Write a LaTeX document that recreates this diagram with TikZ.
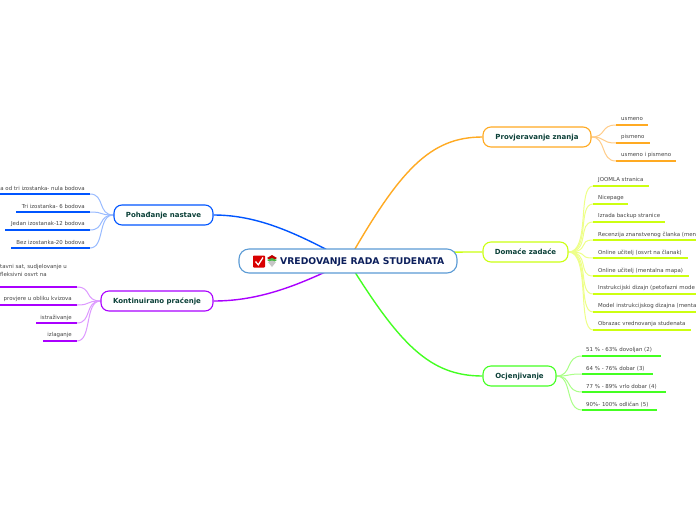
\documentclass[tikz,border=0pt]{standalone}
\usepackage{fontspec}
\setmainfont{DejaVu Sans}
\usetikzlibrary{calc}
\pgfdeclarelayer{edges}
\pgfdeclarelayer{back}
\pgfsetlayers{back,edges,main}
\definecolor{cblue}{HTML}{0055FF}\definecolor{lblue}{HTML}{99BBFF}
\definecolor{cpurp}{HTML}{AA00FF}\definecolor{lpurp}{HTML}{DD99FF}
\definecolor{corng}{HTML}{FFAA22}\definecolor{lorng}{HTML}{FFCC88}
\definecolor{cyell}{HTML}{CCFF11}\definecolor{lyell}{HTML}{EEFF88}
\definecolor{cgren}{HTML}{44FF22}\definecolor{lgren}{HTML}{AAFF88}
\definecolor{maintxt}{HTML}{0B4038}\definecolor{leaftxt}{HTML}{444444}
\definecolor{rootline}{HTML}{5B9BD5}\definecolor{roottxt}{HTML}{0C1F5C}
\tikzset{
  mainbox/.style={draw=#1,line width=1.1pt,fill=white,rounded corners=8pt,inner sep=0pt,text=maintxt,
    text height=6pt,text depth=1pt,font=\fontsize{7}{8}\selectfont\bfseries},
  rootbox/.style={draw=#1,line width=1.1pt,fill=white,rounded corners=10pt,inner sep=0pt},
  leaftext/.style={inner sep=0pt,text=leaftxt,font=\fontsize{5.45}{7}\selectfont},
  trunk/.style={line width=1.4pt,#1},
  twig/.style={line width=1pt,#1},
  under/.style={line width=1.5pt,#1},
}
% name, x-start, x-end, y, text anchor x, anchor, colour, text
\newcommand{\leafitem}[8]{%
  \coordinate (#1-a) at (#2,#4);
  \coordinate (#1-b) at (#3,#4);
  \draw[under=#7] (#1-a) -- (#1-b);
  \node[leaftext,anchor=#6] (#1) at (#5,#4-5.6) {#8};
}
\begin{document}
\begin{tikzpicture}[x=1pt,y=-1pt]
\useasboundingbox (0,0) rectangle (696,520);
\begin{pgfonlayer}{back}\fill[white] (0,0) rectangle (696,520);\end{pgfonlayer}

\node[rootbox=rootline,minimum width=218pt,minimum height=24pt] (root) at (348,261) {};
\node[inner sep=0pt,anchor=west,text=roottxt,font=\fontsize{9.25}{10}\selectfont\bfseries] (roottxt) at (280,261.5) {VREDOVANJE RADA STUDENATA};
% icons
\fill[red!85!black,rounded corners=.8pt] (253,255.5) rectangle (265,267.5);
\draw[white,line width=1.3pt] (255.5,261.5) -- (258.3,264.8) -- (263,257.5);
\fill[red!75!black] (267,258) -- (272,255) -- (277,258) -- (272,261) -- cycle;
\fill[green!45!gray] (267,260) -- (272,258) -- (277,260) -- (272,263) -- cycle;
\fill[gray!45] (268,262) -- (272,260.5) -- (276,262) -- (272,267) -- cycle;

\node[mainbox=cblue,minimum width=99pt,minimum height=20pt] (poh) at (163.5,215) {Pohađanje nastave};
\node[mainbox=cpurp,minimum width=112pt,minimum height=20pt] (kon) at (157,301) {Kontinuirano praćenje};
\node[mainbox=corng,minimum width=108pt,minimum height=20pt] (pro) at (537,137) {Provjeravanje znanja};
\node[mainbox=cyell,minimum width=85pt,minimum height=20pt] (dom) at (525.5,252) {Domaće zadaće};
\node[mainbox=cgren,minimum width=73pt,minimum height=20pt] (ocj) at (519.5,376) {Ocjenjivanje};

\leafitem{p1}{0}{90}{194}{85}{east}{cblue}{a od tri izostanka- nula bodova}
\leafitem{p2}{16}{90}{212}{85}{east}{cblue}{Tri izostanka- 6 bodova}
\leafitem{p3}{5}{90}{230}{85}{east}{cblue}{Jedan izostanak-12 bodova}
\leafitem{p4}{11}{90}{248}{85}{east}{cblue}{Bez izostanka-20 bodova}

\coordinate (k1-a) at (0,287);\coordinate (k1-b) at (77,287);
\draw[under=cpurp] (k1-a) -- (k1-b);
\node[leaftext,anchor=west] (k1t) at (0,267.4) {tavni sat, sudjelovanje u};
\node[leaftext,anchor=west] (k1u) at (0,274.4) {fleksivni osvrt na};
\leafitem{k2}{0}{77}{305}{72}{east}{cpurp}{provjere u obliku kvizova}
\leafitem{k3}{36}{77}{323}{72}{east}{cpurp}{istraživanje}
\leafitem{k4}{43}{77}{341}{72}{east}{cpurp}{izlaganje}

\leafitem{r1}{616}{648}{125}{621}{west}{corng}{usmeno}
\leafitem{r2}{616}{650}{143}{621}{west}{corng}{pismeno}
\leafitem{r3}{616}{676}{161}{621}{west}{corng}{usmeno i pismeno}

\leafitem{d1}{593}{649}{186}{598}{west}{cyell}{JOOMLA stranica}
\leafitem{d2}{593}{628}{204}{598}{west}{cyell}{Nicepage}
\leafitem{d3}{593}{665}{222}{598}{west}{cyell}{Izrada backup stranice}
\leafitem{d4}{593}{696}{240}{598}{west}{cyell}{Recenzija znanstvenog članka (men}
\leafitem{d5}{593}{688}{258}{598}{west}{cyell}{Online učitelj (osvrt na članak)}
\leafitem{d6}{593}{689}{276}{598}{west}{cyell}{Online učitelj (mentalna mapa)}
\leafitem{d7}{593}{696}{294}{598}{west}{cyell}{Instrukcijski dizajn (petofazni mode}
\leafitem{d8}{593}{696}{312}{598}{west}{cyell}{Model instrukcijskog dizajna (menta}
\leafitem{d9}{593}{691}{330}{598}{west}{cyell}{Obrazac vrednovanja studenata}

\leafitem{o1}{582}{661}{356}{586}{west}{cgren}{51 \% - 63\% dovoljan (2)}
\leafitem{o2}{582}{653}{374}{586}{west}{cgren}{64 \% - 76\% dobar (3)}
\leafitem{o3}{582}{666}{392}{586}{west}{cgren}{77 \% - 89\% vrlo dobar (4)}
\leafitem{o4}{582}{657}{410}{586}{west}{cgren}{90\%- 100\% odličan (5)}

\begin{pgfonlayer}{edges}
\draw[trunk=cblue] (root.center) .. controls (300,235) and (260,215) .. (poh.east);
\draw[trunk=cpurp] (root.center) .. controls (300,285) and (260,301) .. (kon.east);
\draw[trunk=corng] (root.center) .. controls (400,170) and (430,137) .. (pro.west);
\draw[trunk=cgren] (root.center) .. controls (400,345) and (430,376) .. (ocj.west);
\draw[trunk=cyell] (root.center) .. controls (420,252) and (440,252) .. (dom.west);

\foreach \n in {p1,p2,p3,p4}
  \draw[twig=lblue] (poh.west) .. controls +(-16,0) and ($(\n-b)+(15,0)$) .. (\n-b);
\foreach \n in {k1,k2,k3,k4}
  \draw[twig=lpurp] (kon.west) .. controls +(-16,0) and ($(\n-b)+(15,0)$) .. (\n-b);
\foreach \n in {r1,r2,r3}
  \draw[twig=lorng] (pro.east) .. controls +(15,0) and ($(\n-a)+(-16,0)$) .. (\n-a);
\foreach \n in {d1,d2,d3,d4,d5,d6,d7,d8,d9}
  \draw[twig=lyell] (dom.east) .. controls +(22,0) and ($(\n-a)+(-16,0)$) .. (\n-a);
\foreach \n in {o1,o2,o3,o4}
  \draw[twig=lgren] (ocj.east) .. controls +(16,0) and ($(\n-a)+(-17,0)$) .. (\n-a);
\end{pgfonlayer}
\end{tikzpicture}
\end{document}
